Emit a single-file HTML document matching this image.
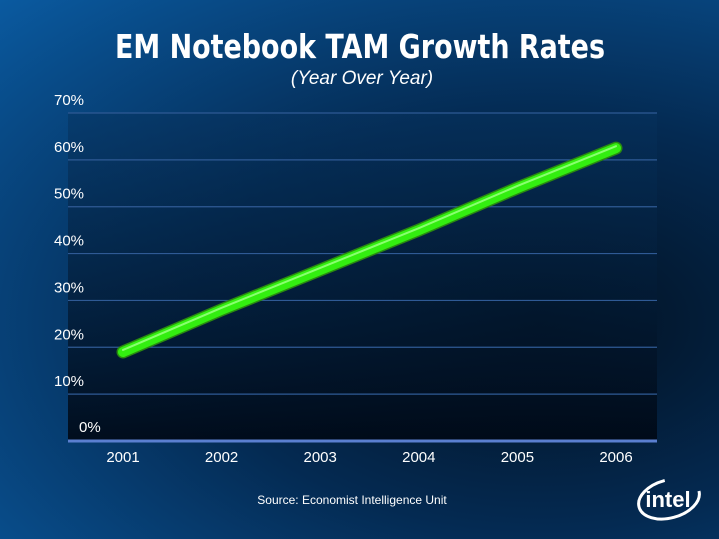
<!DOCTYPE html>
<html><head><meta charset="utf-8"><style>
html,body{margin:0;padding:0;width:719px;height:539px;overflow:hidden;}
body{background:radial-gradient(ellipse at 75% 60%,#02101f 0%,#042a52 45%,#0a5aa0 100%);font-family:"Liberation Sans",sans-serif;}
svg{display:block;}
</style></head><body>
<svg id="chart" width="719" height="539" xmlns="http://www.w3.org/2000/svg">
<defs>
<linearGradient id="plotbg" x1="0" y1="0" x2="0" y2="1"><stop offset="0" stop-color="#06325e" stop-opacity="0.5"/><stop offset="1" stop-color="#000814" stop-opacity="0.9"/></linearGradient>
</defs>
<text x="360" y="58" text-anchor="middle" fill="#fff" font-size="33" font-weight="bold" font-family="DejaVu Sans, sans-serif" textLength="490" lengthAdjust="spacingAndGlyphs">EM Notebook TAM Growth Rates</text>
<text x="362" y="84" text-anchor="middle" fill="#fff" font-size="19" font-style="italic">(Year Over Year)</text>
<rect x="68" y="113" width="589" height="328" fill="url(#plotbg)"/>
<g id="grid"></g><g id="series"></g>
<text x="352" y="504" text-anchor="middle" fill="#fff" font-size="12">Source: Economist Intelligence Unit</text>
<g>
<ellipse cx="669" cy="499" rx="31" ry="19" fill="none" stroke="#fff" stroke-width="3" transform="rotate(-15 669 499)" stroke-dasharray="120 40"/>
<text x="668" y="507" text-anchor="middle" fill="#fff" font-size="22" font-weight="bold">intel</text>
</g>
</svg>
<script>
const categories=["2001","2002","2003","2004","2005","2006"];
const values=[19,28,36.5,45,54,62.5];
const yTicks=[0,10,20,30,40,50,60,70];
const ns="http://www.w3.org/2000/svg";
const x0=123,dx=98.6,yBase=441,yTop=113,yMax=70;
function xs(i){return x0+i*dx;}
function ys(v){return yBase-(v/yMax)*(yBase-yTop);}
const grid=document.getElementById('grid');
function mk(tag,a,p){const e=document.createElementNS(ns,tag);for(const k in a)e.setAttribute(k,a[k]);p.appendChild(e);return e;}
yTicks.forEach(t=>{
 const l=mk('line',{x1:68,x2:657,y1:ys(t),y2:ys(t),stroke:t===0?'#5a7fd0':'#2f5a95','stroke-width':t===0?3:1.2},grid);
 
 
 const tx=mk('text',{x:t===0?79:54,y:t===0?ys(t)-9:ys(t)-8,fill:'#fff','font-size':15},grid);
 tx.textContent=t+'%';
 
 
});
categories.forEach((c,i)=>{
 const tx=mk('text',{x:xs(i),y:462,fill:'#fff','font-size':15,'text-anchor':'middle'},grid);
 tx.textContent=c;
 
 
});
const s=document.getElementById('series');
const d=values.map((v,i)=>(i?'L':'M')+xs(i)+','+ys(v)).join(' ');
const glow=mk('path',{d:d,fill:'none',stroke:'#2a8a10','stroke-width':13,'stroke-linecap':'round'},s);


const line=mk('path',{d:d,fill:'none',stroke:'#33ee10','stroke-width':10,'stroke-linecap':'round'},s);


const hl=mk('path',{d:d,fill:'none',stroke:'#8aff70','stroke-width':2,'stroke-linecap':'round',transform:'translate(0,-2)'},s);


</script>
</body></html>
